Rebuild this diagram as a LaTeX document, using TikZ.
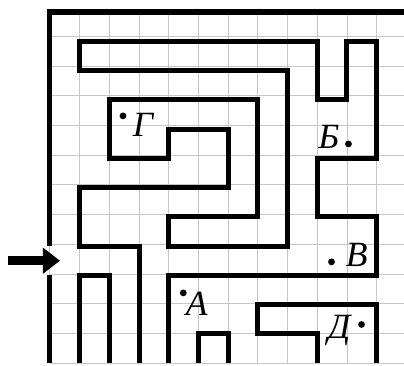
\documentclass[tikz,border=0pt]{standalone}
\usepackage{fontspec}
\setmainfont{Liberation Serif}
\usetikzlibrary{arrows.meta}

\begin{document}
\begin{tikzpicture}[x=1cm,y=0.985cm,
 wall/.style={line width=4.8pt,line join=miter},
 spot/.style={circle,fill,inner sep=0pt,minimum size=6.5pt},
 letter/.style={inner sep=0pt,anchor=base,font=\fontsize{34}{34}\selectfont\itshape}]
\useasboundingbox (-1.68,-0.07) rectangle (11.92,12.41);
\draw[gray!45,line width=0.9pt] (0,0) grid (12,12);
% outer border with the gap for the entrance
\draw[wall] (0,4) -- (0,12) -- (12,12);
\draw[wall] (0,3) -- (0,0);
% inner walls
\draw[wall] (4,0) -- (4,3) -- (11,3) -- (11,5) -- (9,5) -- (9,7) -- (11,7) -- (11,11)
 -- (10,11) -- (10,9) -- (9,9) -- (9,11) -- (1,11) -- (1,10) -- (8,10) -- (8,4)
 -- (4,4) -- (4,5) -- (7,5) -- (7,9) -- (2,9) -- (2,7) -- (4,7) -- (4,8) -- (6,8)
 -- (6,6) -- (1,6) -- (1,4) -- (3,4) -- (3,0);
\draw[wall] (9,0) -- (9,1) -- (7,1) -- (7,2) -- (11,2) -- (11,0);
\draw[wall] (5,0) -- (5,1) -- (6,1) -- (6,0);
\draw[wall] (1,0) -- (1,3) -- (2,3) -- (2,0);
% points
\node[spot] (pG) at (2.46,8.45) {};
\node[letter] (G) at (3.13,7.73) {Г};
\node[spot] (pB) at (10.05,7.49) {};
\node[letter] (B) at (9.39,7.34) {Б};
\node[spot] (pV) at (9.48,3.46) {};
\node[letter] (V) at (10.33,3.29) {В};
\node[spot] (pA) at (4.49,2.4) {};
\node[letter] (A) at (4.94,1.64) {А};
\node[spot] (pD) at (10.49,1.32) {};
\node[letter] (D) at (9.74,0.85) {Д};
% entrance arrow
\coordinate (start) at (-1.41,3.5);
\coordinate (entry) at (0.34,3.5);
\draw[line width=0.3cm,-{Triangle[length=0.58cm,width=0.85cm]}] (start) -- (entry);
\end{tikzpicture}
\end{document}
